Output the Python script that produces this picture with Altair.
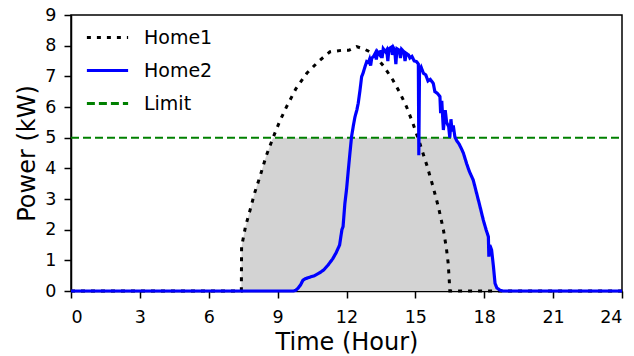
import altair as alt
import numpy as np
import pandas as pd

# Home1 (dotted black)
home1_hours = [0, 7.42, 7.43, 7.6, 7.8, 8.0, 8.23, 8.5, 8.8, 9.1, 9.39, 9.8, 10.27, 10.8,
               11.28, 11.8, 12.1, 12.44, 12.8, 13.15, 13.6, 14.02, 14.3, 14.62, 14.9,
               15.2, 15.5, 15.77, 16.0, 16.22, 16.35, 16.43, 16.48, 16.5, 24]
home1_kw = [0, 0, 1.44, 2.1, 2.64, 3.2, 3.73, 4.4, 5.0, 5.55, 6.01, 6.6, 7.1, 7.5,
            7.8, 7.85, 7.85, 7.97, 7.88, 7.75, 7.35, 6.88, 6.5, 6.0, 5.45,
            4.8, 4.1, 3.4, 2.75, 2.0, 1.4, 0.9, 0.3, 0, 0]

# Home2 (solid blue)
home2_hours = [0, 9.7, 9.8, 9.9, 10.0, 10.1, 10.2, 10.4, 10.6, 10.8, 11.0, 11.2, 11.4, 11.55,
               11.7, 11.8, 11.85, 11.93, 12.0, 12.08, 12.15, 12.22, 12.3, 12.37, 12.45,
               12.51, 12.58, 12.66, 12.72, 12.8, 12.88, 12.95, 13.0, 13.05, 13.1, 13.17,
               13.25, 13.3, 13.35, 13.45, 13.5, 13.55, 13.6, 13.7, 13.75, 13.8, 13.85,
               13.95, 14.0, 14.05, 14.1, 14.15, 14.2, 14.3, 14.35, 14.4, 14.5, 14.55,
               14.6, 14.7, 14.76, 14.85, 14.95, 15.05, 15.13, 15.15, 15.18, 15.25, 15.35,
               15.45, 15.55, 15.65, 15.78, 15.85, 15.95, 16.07, 16.1, 16.15, 16.22, 16.3,
               16.36, 16.45, 16.5, 16.55, 16.6, 16.65, 16.72, 16.8, 16.9, 17.0, 17.09,
               17.23, 17.35, 17.52, 17.67, 17.8, 17.96, 18.08, 18.18, 18.2, 18.24, 18.32,
               18.4, 18.47, 18.55, 18.68, 18.8, 24]
home2_kw = [0, 0, 0.03, 0.1, 0.2, 0.35, 0.4, 0.45, 0.5, 0.58, 0.68, 0.85, 1.05, 1.25,
            1.5, 2.0, 2.1, 2.86, 3.3, 3.95, 4.5, 5.03, 5.4, 5.68, 5.9,
            6.12, 6.5, 6.99, 7.1, 7.3, 7.48, 7.45, 7.55, 7.35, 7.6, 7.64,
            7.75, 7.55, 7.8, 7.7, 7.85, 7.6, 7.9, 7.8, 7.86, 7.5, 7.9,
            7.95, 7.7, 7.92, 7.85, 7.4, 7.9, 7.85, 7.6, 7.88, 7.8, 7.5,
            7.75, 7.7, 7.6, 7.65, 7.5, 7.48, 7.4, 4.43, 7.2, 7.3, 7.1,
            7.05, 6.85, 6.9, 6.77, 6.5, 6.45, 6.34, 5.8, 6.2, 5.25, 5.9,
            5.5, 5.36, 5.0, 5.6, 5.2, 5.4, 5.03, 4.9, 4.8, 4.65, 4.5,
            4.16, 3.9, 3.62, 3.18, 2.8, 2.31, 2.0, 1.77, 1.12, 1.5, 1.34,
            0.8, 0.25, 0.1, 0.03, 0, 0]

limit_kw = 5
series_names = ["Home1", "Home2", "Limit"]
x_ticks = [0, 3, 6, 9, 12, 15, 18, 21, 24]
y_ticks = [0, 1, 2, 3, 4, 5, 6, 7, 8, 9]

df1 = pd.DataFrame({"t": home1_hours, "p": home1_kw, "series": "Home1"})
df2 = pd.DataFrame({"t": home2_hours, "p": home2_kw, "series": "Home2"})
dfl = pd.DataFrame({"t": [0, 24], "p": [limit_kw, limit_kw], "series": "Limit"})

# shaded region: min(limit, max(home1, home2))
grid = np.unique(np.concatenate([home1_hours, home2_hours]))
h1 = np.interp(grid, home1_hours, home1_kw)
h2 = np.interp(grid, home2_hours, home2_kw)
dff = pd.DataFrame({"t": grid, "p": np.minimum(limit_kw, np.maximum(h1, h2))})

leg = dict(title=None, orient="none", legendX=14, legendY=0,
           symbolType="stroke", symbolSize=1700, symbolStrokeWidth=3,
           labelFontSize=19, labelFont="DejaVu Sans", labelColor="black",
           labelOffset=14, rowPadding=-24)

xs = alt.Scale(domain=[0, 24], nice=False)
ys = alt.Scale(domain=[0, 9], nice=False)
color = alt.Color("series:N", scale=alt.Scale(domain=series_names, range=["#000000", "#0000ff", "#008000"]),
                  legend=alt.Legend(**leg))
dash = alt.StrokeDash("series:N", scale=alt.Scale(domain=series_names, range=[[4, 6], [1, 0], [8, 4]]),
                      legend=alt.Legend(**leg))

xaxis = alt.X("t:Q", scale=xs, title="Time (Hour)",
              axis=alt.Axis(values=x_ticks, format="d", labelPadding=10, titlePadding=5))
yaxis = alt.Y("p:Q", scale=ys, title="Power (kW)",
              axis=alt.Axis(values=y_ticks, format="d", labelPadding=8, titlePadding=5))

fill = alt.Chart(dff).mark_area(color="#d3d3d3", opacity=1).encode(x=xaxis, y=yaxis)

limit = alt.Chart(dfl).mark_line(strokeWidth=2).encode(x=xaxis, y=yaxis, color=color, strokeDash=dash)
l2 = alt.Chart(df2).mark_line(strokeWidth=3.2).encode(x=xaxis, y=yaxis, color=color, strokeDash=dash)
l1 = alt.Chart(df1).mark_line(strokeWidth=3).encode(x=xaxis, y=yaxis, color=color, strokeDash=dash)

chart = alt.layer(fill, limit, l1, l2).properties(
    width=551, height=276,
    autosize=alt.AutoSizeParams(type="none"),
    padding={"left": 63, "top": 7, "right": 4, "bottom": 65},
).configure_view(stroke="black", strokeWidth=1.5).configure_axis(
    labelFont="DejaVu Sans", titleFont="DejaVu Sans", labelFontSize=17.5, titleFontSize=24,
    labelColor="black", titleColor="black", titleFontWeight="normal",
    domainColor="black", domainWidth=1.5, tickColor="black", tickSize=7, tickWidth=1.5,
    grid=False,
)

chart.save("out.html", embed_options={"renderer": "svg", "actions": False})
